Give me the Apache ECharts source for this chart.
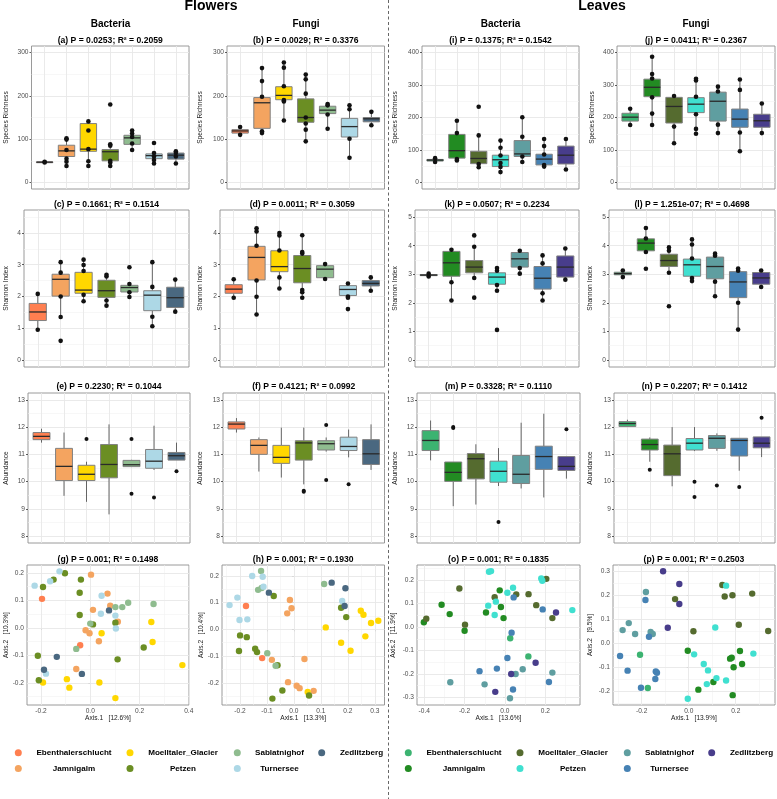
<!DOCTYPE html>
<html><head><meta charset="utf-8">
<script src="https://cdn.jsdelivr.net/npm/echarts@6/dist/echarts.min.js"></script>
<style>html,body{margin:0;padding:0;background:#fff}#c{width:777px;height:799px}</style>
</head><body><div id="c"></div><script>
// ---------------- DATA ----------------
const sites = ['Ebenthalerschlucht','Jamnigalm','Moelltaler_Glacier','Petzen','Sablatnighof','Turnersee','Zedlitzberg'];
const flowerColors = ['#FF7F50','#F4A460','#FFD700','#6B8E23','#8FBC8F','#ADD8E6','#4A6880'];
const leafColors = ['#3CB371','#228B22','#556B2F','#40E0D0','#5F9EA0','#4682B4','#483D8B'];

// box stats: [min, Q1, median, Q3, max] per site
const statsA = [[45,46,47,47.5,48],[38,60,73,86,102],[38,72,77,136,141],[38,50,71,76,88],[75,88,103,109,120],[44,55,62,66,70],[44,54,63,68,72]];
const ptsA = [[46,48],[102,99,75,55,48,38],[141,120,77,49,38],[180,88,85,50,46,38],[120,113,105,90,75],[91,68,60,52,44],[72,68,60,44]];
const statsB = [[110,114,119,122,128],[114,125,184,196,264],[143,191,201,221,277],[95,139,150,193,249],[124,159,167,176,181],[57,105,129,148,179],[132,140,147,150,163]];
const ptsB = [[128,110],[264,234,198,118,114],[277,265,222,190,187,143],[249,238,205,150,136,122,95],[181,178,157,124],[178,169,101,57],[163,132]];
const statsI = [[63,66,69,71,75],[67,75,98,148,191],[47,58,74,96,145],[32,49,70,84,131],[63,80,88,129,201],[50,54,72,87,134],[39,57,84,112,134]];
const ptsI = [[75,63],[190,152,72,68],[233,145,57,47],[129,107,83,60,48,32],[201,141,80,63],[134,112,86,54,49],[134,40]];
const statsJ = [[177,189,201,213,228],[177,264,293,318,387],[121,183,234,262,266],[150,215,241,261,319],[152,189,250,278,295],[96,170,195,226,317],[152,170,190,210,244]];
const ptsJ = [[227,177],[387,334,320,262,212,177],[266,172,121],[319,314,264,210,165,150],[295,280,178,152],[317,285,154,96],[243,152]];

const statsC = [[0.95,1.24,1.51,1.78,2.08],[1.35,2.01,2.54,2.70,3.09],[1.85,2.10,2.20,2.76,3.16],[1.70,1.97,2.18,2.51,2.69],[1.96,2.14,2.28,2.35,2.40],[1.06,1.55,2.04,2.18,3.09],[1.51,1.65,1.96,2.29,2.54]];
const ptsC = [[2.08,0.95],[3.08,2.75,2.0,1.35,0.6],[3.16,2.99,2.8,2.05,1.85],[2.68,2.63,1.87,1.71],[2.92,2.39,2.13,1.98],[3.08,2.3,1.36,1.06],[2.53,1.52]];
const statsD = [[1.96,2.10,2.23,2.37,2.54],[1.43,2.52,3.23,3.58,4.18],[2.25,2.78,2.94,3.44,4.02],[1.96,2.43,2.88,3.29,3.95],[2.54,2.59,2.86,2.97,3.03],[1.96,2.03,2.22,2.34,2.41],[2.19,2.33,2.41,2.50,2.60]];
const ptsD = [[2.54,1.96],[4.15,4.05,3.6,2.5,1.99,1.43],[4.0,3.92,3.45,2.6,2.25],[3.93,3.4,3.35,2.2,2.13,1.96],[3.02,2.55],[2.41,2.0,1.96,1.6],[2.6,2.18]];
const statsK = [[2.92,2.95,2.97,2.99,3.02],[2.08,2.93,3.40,3.80,3.86],[2.86,3.05,3.25,3.48,3.95],[2.41,2.65,2.90,3.05,3.25],[3.01,3.25,3.54,3.76,3.82],[2.08,2.48,2.86,3.27,3.67],[2.80,2.90,3.25,3.64,3.90]];
const ptsK = [[3.02,2.92],[3.86,2.72,2.08],[4.36,3.96,2.87,2.18],[3.22,3.12,2.62,2.42,1.05],[3.82,3.22,3.02],[3.66,3.38,2.33,2.08],[3.9,2.81]];
const statsL = [[2.90,2.98,3.02,3.07,3.13],[3.79,3.82,4.09,4.24,4.65],[3.06,3.27,3.48,3.70,3.95],[2.73,2.93,3.33,3.53,4.24],[2.24,2.84,3.27,3.60,3.74],[1.06,2.18,2.73,3.09,3.24],[2.55,2.65,2.87,3.06,3.15]];
const ptsL = [[3.13,2.9],[4.62,4.25,3.78,3.19],[3.94,3.82,3.05,1.88],[4.22,4.04,3.55,2.87,2.76],[3.72,3.65,2.74,2.23],[3.2,3.12,2.0,1.06],[3.13,2.55]];

const statsE = [[11.43,11.54,11.66,11.80,11.94],[9.48,10.04,10.56,11.22,11.80],[9.26,10.04,10.27,10.60,10.73],[8.80,10.14,10.63,11.36,12.10],[10.55,10.55,10.62,10.78,10.80],[10.43,10.49,10.75,11.18,12.05],[10.79,10.79,10.95,11.07,11.43]];
const outE = [[],[],[11.56],[],[11.56,9.56],[9.42],[10.38]];
const statsF = [[11.80,11.93,12.11,12.19,12.33],[10.37,11.00,11.33,11.54,11.62],[10.15,10.67,10.89,11.33,11.98],[9.90,10.79,11.42,11.50,11.98],[11.10,11.16,11.39,11.50,11.62],[10.89,11.14,11.29,11.63,11.91],[10.43,10.63,11.02,11.54,12.10]];
const outF = [[],[],[],[9.67,9.63],[12.08,10.06],[9.9],[]];
const statsM = [[10.78,11.14,11.51,11.87,12.24],[9.10,10.01,10.34,10.72,10.72],[9.16,10.10,10.84,11.03,11.37],[9.84,9.98,10.38,10.75,11.23],[9.75,9.93,10.27,10.96,12.16],[9.42,10.45,10.92,11.30,12.49],[10.11,10.41,10.56,10.92,10.92]];
const outM = [[],[12.0,11.97],[],[8.52],[],[],[11.92]];
const statsN = [[12.00,12.02,12.13,12.20,12.27],[10.73,11.16,11.36,11.56,11.62],[9.83,10.22,11.02,11.34,12.00],[11.12,11.16,11.41,11.58,12.00],[11.13,11.22,11.59,11.69,11.77],[10.40,10.94,11.51,11.59,11.59],[10.90,11.24,11.41,11.64,11.64]];
const outN = [[],[10.44],[],[10.0,9.44],[9.86],[9.8],[12.34]];

// ordination points: [Axis.1, Axis.2, site index]
const ordG = [[-0.226,0.154,5],[-0.192,0.149,3],[-0.163,0.170,5],[-0.149,0.176,3],[-0.125,0.206,5],[-0.103,0.199,3],[-0.038,0.176,3],[0.003,0.194,1],[-0.196,0.106,0],[-0.043,0.128,3],[0.046,0.117,5],[0.070,0.125,1],[0.081,0.081,1],[0.102,0.076,4],[0.130,0.076,4],[0.154,0.092,4],[0.257,0.087,4],[0.011,0.066,1],[0.076,0.064,6],[-0.043,0.047,3],[0.043,0.052,5],[0.102,0.045,5],[0.0,0.016,4],[0.011,0.013,3],[0.102,0.019,3],[0.112,0.023,1],[0.248,0.022,2],[0.104,-0.002,5],[-0.019,-0.008,1],[-0.003,-0.019,1],[0.046,-0.019,2],[-0.041,-0.063,0],[-0.057,-0.076,4],[0.035,-0.048,1],[0.253,-0.051,2],[0.217,-0.071,3],[-0.213,-0.101,3],[-0.136,-0.105,6],[0.111,-0.114,3],[0.374,-0.135,2],[-0.188,-0.152,6],[-0.180,-0.166,5],[-0.034,-0.167,6],[-0.057,-0.149,1],[-0.209,-0.190,3],[-0.192,-0.198,2],[-0.095,-0.186,2],[-0.085,-0.217,2],[0.037,-0.198,2],[0.102,-0.255,2]];
const ordH = [[-0.122,0.219,4],[-0.155,0.2,5],[-0.116,0.197,5],[-0.133,0.148,4],[-0.12,0.155,4],[-0.113,0.16,5],[-0.239,0.091,5],[-0.210,0.119,5],[-0.202,0.035,5],[-0.173,0.0375,5],[-0.178,0.0875,0],[-0.093,0.1375,6],[-0.075,0.125,3],[-0.015,0.11,1],[-0.009,0.079,1],[-0.025,0.06,1],[0.112,0.17,4],[0.14,0.175,6],[0.191,0.154,6],[0.179,0.106,5],[0.188,0.0875,6],[0.175,0.081,3],[0.194,0.046,3],[0.248,0.07,2],[0.258,0.055,2],[0.286,0.024,2],[0.313,0.0325,2],[0.265,-0.026,2],[0.118,0.0075,2],[0.175,-0.05,2],[0.21,-0.08,2],[-0.2,-0.0225,3],[-0.175,-0.029,3],[-0.204,-0.081,3],[-0.144,-0.0725,3],[-0.137,-0.085,3],[-0.099,-0.089,4],[-0.118,-0.1075,0],[-0.082,-0.114,1],[0.039,-0.111,1],[-0.068,-0.136,4],[-0.061,-0.134,3],[-0.022,-0.1975,1],[0.01,-0.211,1],[0.021,-0.22,1],[0.051,-0.234,2],[0.073,-0.23,1],[0.056,-0.2475,3],[-0.043,-0.229,3],[-0.08,-0.259,3]];
const ordO = [[-0.079,0.235,3],[-0.069,0.238,3],[0.18,0.207,3],[0.185,0.197,3],[0.205,0.205,2],[-0.226,0.164,2],[0.04,0.167,3],[-0.026,0.156,1],[0.012,0.146,3],[0.056,0.139,2],[0.117,0.14,2],[-0.314,0.095,1],[-0.051,0.127,2],[-0.045,0.108,3],[-0.083,0.091,3],[0.155,0.093,2],[0.043,0.126,5],[0.187,0.075,5],[0.253,0.062,6],[0.334,0.072,3],[-0.274,0.055,1],[-0.094,0.062,1],[-0.02,0.085,1],[-0.051,0.051,3],[-0.007,0.038,1],[0.235,0.038,2],[-0.39,0.035,2],[-0.402,0.02,1],[-0.198,0.01,2],[-0.2,-0.016,1],[0.033,-0.024,5],[0.026,-0.048,0],[0.116,-0.125,0],[0.012,-0.132,5],[0.152,-0.152,6],[-0.126,-0.188,5],[-0.04,-0.177,5],[0.088,-0.18,4],[0.053,-0.2,4],[0.031,-0.2,6],[0.235,-0.194,4],[-0.271,-0.235,4],[-0.101,-0.244,4],[0.04,-0.266,5],[0.218,-0.234,5],[-0.048,-0.276,6],[0.025,-0.303,4]];
const ordP = [[-0.109,0.299,6],[-0.04,0.246,6],[-0.04,0.1625,6],[-0.089,0.064,6],[-0.058,0.183,2],[0.143,0.242,2],[0.159,0.239,3],[0.153,0.194,2],[0.186,0.199,2],[0.27,0.206,2],[0.213,0.076,2],[0.02,0.049,2],[0.338,0.05,2],[0.113,0.065,3],[-0.182,0.2125,4],[-0.184,0.179,5],[-0.255,0.083,4],[-0.281,0.054,4],[-0.228,0.0375,4],[-0.162,0.046,4],[-0.153,0.0375,4],[-0.169,0.026,5],[-0.292,-0.054,5],[-0.26,-0.115,5],[-0.207,-0.049,0],[-0.14,-0.118,5],[-0.135,-0.124,5],[-0.142,-0.15,5],[-0.203,-0.186,5],[-0.174,-0.1875,0],[-0.004,-0.032,1],[0.023,-0.047,3],[0.064,-0.0875,3],[0.082,-0.114,3],[0.118,-0.146,3],[0.077,-0.171,3],[0.159,-0.156,3],[0.275,-0.044,3],[0.218,-0.033,1],[0.176,-0.065,1],[0.183,-0.061,1],[0.191,-0.101,1],[0.227,-0.0875,1],[0.105,-0.1625,1],[0.041,-0.194,1],[0.187,-0.217,1],[-0.004,-0.232,3]];

// tick labels
const richTicks3 = [0,100,200,300];
const richTicks4 = [0,100,200,300,400];
const shanTicks4 = [0,1,2,3,4];
const shanTicks5 = [0,1,2,3,4,5];
const abundTicks = [8,9,10,11,12,13];
const gXTicks = [-0.2,0,0.2,0.4], gYTicks = [-0.2,-0.1,0,0.1,0.2];
const hXTicks = [-0.2,-0.1,0,0.1,0.2,0.3], hYTicks = [-0.2,-0.1,0,0.1,0.2];
const oXTicks = [-0.4,-0.2,0,0.2], oYTicks = [-0.3,-0.2,-0.1,0,0.1,0.2];
const pXTicks = [-0.2,0,0.2], pYTicks = [-0.2,-0.1,0,0.1,0.2,0.3];
const categoryPos = [1,2,3,4,5,6,7];

// ---------------- BUILD ----------------
const FONT = 'Liberation Sans, Arial, Helvetica, sans-serif';
const grids = [], xAxes = [], yAxes = [], series = [], titles = [], legends = [];
const MAJ = {color:'#e8e8e8', width:0.9, type:'solid'};
const MIN = {color:'#f2f2f2', width:0.6, type:'solid'};
const TICK_FS = 6.6, NAME_FS = 6.6;

function minors(majors, lo, hi) {
  const s = majors[1] - majors[0];
  const c = [majors[0] - s/2].concat(majors.map(m => m + s/2));
  return c.filter(v => v > lo && v < hi);
}
function addGrid(b) {
  grids.push({left:b[0], top:b[1], width:b[2]-b[0], height:b[3]-b[1], show:true,
    borderColor:'#8f8f8f', borderWidth:0.9, backgroundColor:'#fff', containLabel:false, outerBoundsMode:'none'});
  return grids.length - 1;
}
function addGridLines(gi, xMaj, xMin, yMaj, yMin) {
  const d = [];
  xMin.forEach(v => d.push({xAxis:v, lineStyle:MIN}));
  yMin.forEach(v => d.push({yAxis:v, lineStyle:MIN}));
  xMaj.forEach(v => d.push({xAxis:v, lineStyle:MAJ}));
  yMaj.forEach(v => d.push({yAxis:v, lineStyle:MAJ}));
  series.push({type:'line', xAxisIndex:gi, yAxisIndex:gi, data:[], silent:true,
    markLine:{silent:true, symbol:['none','none'], label:{show:false}, z:1, emphasis:{disabled:true}, data:d}});
}
function addTitle(text, cx, cy, size) {
  titles.push({text, left:cx, top:cy - size*0.62, textAlign:'center', padding:0,
    textStyle:{fontSize:size, fontWeight:'bold', color:'#000', fontFamily:FONT}});
}
function yAxisCfg(gi, lo, hi, ticks, fmt, name, gap) {
  return {gridIndex:gi, type:'value', min:lo, max:hi, splitLine:{show:false}, axisLine:{show:false},
    axisTick:{show:true, length:2, customValues:ticks, lineStyle:{color:'#333', width:0.8}},
    axisLabel:{customValues:ticks, formatter:fmt, fontSize:TICK_FS, color:'#4d4d4d', margin:3, fontFamily:FONT},
    name, nameLocation:'middle', nameGap:gap, nameRotate:90, nameMoveOverlap:false,
    nameTextStyle:{fontSize:NAME_FS, color:'#1a1a1a', fontFamily:FONT}};
}
function boxRenderer(colors) {
  return function (params, api) {
    const x = api.value(0);
    const lo = api.coord([x, api.value(1)]);
    const q1 = api.coord([x, api.value(2)]);
    const md = api.coord([x, api.value(3)]);
    const q3 = api.coord([x, api.value(4)]);
    const hi = api.coord([x, api.value(5)]);
    const w = api.size([0.75, 0])[0];
    const cx = q1[0];
    return {type:'group', children:[
      {type:'line', shape:{x1:cx, y1:hi[1], x2:cx, y2:q3[1]}, style:{stroke:'#555', lineWidth:0.9}},
      {type:'line', shape:{x1:cx, y1:q1[1], x2:cx, y2:lo[1]}, style:{stroke:'#555', lineWidth:0.9}},
      {type:'rect', shape:{x:cx-w/2, y:q3[1], width:w, height:Math.max(q1[1]-q3[1], 0.8)},
        style:{fill:colors[params.dataIndex], stroke:'#808080', lineWidth:1}},
      {type:'line', shape:{x1:cx-w/2, y1:md[1], x2:cx+w/2, y2:md[1]}, style:{stroke:'#2a2a2a', lineWidth:1.3}}
    ]};
  };
}
const fmtInt = v => String(Math.round(v));
const fmt1 = v => (Math.abs(v) < 1e-9 ? 0 : v).toFixed(1);

function boxPanel(p) {
  const gi = addGrid(p.box);
  xAxes.push({gridIndex:gi, type:'value', min:0.4, max:7.6, show:false});
  yAxes.push(yAxisCfg(gi, p.y[0], p.y[1], p.ticks, fmtInt, p.yName, p.box[0] - p.nameX - 3.8));
  addGridLines(gi, categoryPos, [], p.ticks, minors(p.ticks, p.y[0], p.y[1]));
  series.push({type:'custom', xAxisIndex:gi, yAxisIndex:gi, silent:true, z:2,
    data:p.stats.map((s, k) => [categoryPos[k]].concat(s)),
    encode:{x:0, y:[1,2,3,4,5]}, renderItem:boxRenderer(p.colors)});
  const dots = [];
  p.dots.forEach((arr, k) => arr.forEach(v => dots.push([categoryPos[k], v])));
  series.push({type:'scatter', xAxisIndex:gi, yAxisIndex:gi, silent:true, z:3, data:dots,
    symbolSize:p.dotSize, itemStyle:{color:'#111', opacity:1}});
  addTitle(p.title, (p.box[0]+p.box[2])/2, p.titleY, 8.6);
}
function ordPanel(p) {
  const gi = addGrid(p.box);
  xAxes.push({gridIndex:gi, type:'value', min:p.x[0], max:p.x[1], splitLine:{show:false}, axisLine:{show:false},
    axisTick:{show:true, length:2, customValues:p.xt, lineStyle:{color:'#333', width:0.8}},
    axisLabel:{customValues:p.xt, formatter:fmt1, fontSize:TICK_FS, color:'#4d4d4d', margin:3, fontFamily:FONT},
    name:p.xName, nameLocation:'middle', nameGap:10, nameMoveOverlap:false,
    nameTextStyle:{fontSize:NAME_FS, color:'#1a1a1a', fontFamily:FONT}});
  yAxes.push(yAxisCfg(gi, p.y[0], p.y[1], p.yt, fmt1, p.yName, p.box[0] - p.nameX - 3.8));
  addGridLines(gi, p.xt, minors(p.xt, p.x[0], p.x[1]), p.yt, minors(p.yt, p.y[0], p.y[1]));
  sites.forEach((s, k) => {
    series.push({type:'scatter', name:p.prefix + s, xAxisIndex:gi, yAxisIndex:gi, silent:true, z:3,
      data:p.pts.filter(d => d[2] === k).map(d => [d[0], d[1]]),
      symbolSize:6.4, itemStyle:{color:p.colors[k], opacity:1}});
  });
  addTitle(p.title, (p.box[0]+p.box[2])/2, p.titleY, 8.6);
}

// Row 1
boxPanel({stats:statsA, dots:ptsA, dotSize:4.6, colors:flowerColors, box:[31.5,46,189,189], y:[-15,315], ticks:richTicks3, yName:'Species Richness', nameX:5.5, title:'(a) P = 0.0253; R² = 0.2059', titleY:41});
boxPanel({stats:statsB, dots:ptsB, dotSize:4.6, colors:flowerColors, box:[227,46,384.5,189], y:[-15,315], ticks:richTicks3, yName:'Species Richness', nameX:200, title:'(b) P = 0.0029; R² = 0.3376', titleY:41});
boxPanel({stats:statsI, dots:ptsI, dotSize:4.6, colors:leafColors, box:[422,46,579,189], y:[-20,420], ticks:richTicks4, yName:'Species Richness', nameX:395, title:'(i) P = 0.1375; R² = 0.1542', titleY:41});
boxPanel({stats:statsJ, dots:ptsJ, dotSize:4.6, colors:leafColors, box:[617,46,775,189], y:[-20,420], ticks:richTicks4, yName:'Species Richness', nameX:592, title:'(j) P = 0.0411; R² = 0.2367', titleY:41});
// Row 2
boxPanel({stats:statsC, dots:ptsC, dotSize:4.6, colors:flowerColors, box:[24,210,189,367], y:[-0.225,4.725], ticks:shanTicks4, yName:'Shannon Index', nameX:5.5, title:'(c) P = 0.1661; R² = 0.1514', titleY:205});
boxPanel({stats:statsD, dots:ptsD, dotSize:4.6, colors:flowerColors, box:[220,210,384.5,367], y:[-0.225,4.725], ticks:shanTicks4, yName:'Shannon Index', nameX:200, title:'(d) P = 0.0011; R² = 0.3059', titleY:205});
boxPanel({stats:statsK, dots:ptsK, dotSize:4.6, colors:leafColors, box:[415,210,579,367], y:[-0.25,5.25], ticks:shanTicks5, yName:'Shannon Index', nameX:395, title:'(k) P = 0.0507; R² = 0.2234', titleY:205});
boxPanel({stats:statsL, dots:ptsL, dotSize:4.6, colors:leafColors, box:[609,210,775,367], y:[-0.25,5.25], ticks:shanTicks5, yName:'Shannon Index', nameX:590, title:'(l) P = 1.251e-07; R² = 0.4698', titleY:205});
// Row 3
boxPanel({stats:statsE, dots:outE, dotSize:4, colors:flowerColors, box:[28,393,190,543], y:[7.75,13.25], ticks:abundTicks, yName:'Abundance', nameX:5.5, title:'(e) P = 0.2230; R² = 0.1044', titleY:387});
boxPanel({stats:statsF, dots:outF, dotSize:4, colors:flowerColors, box:[223,393,384.5,543], y:[7.75,13.25], ticks:abundTicks, yName:'Abundance', nameX:199.5, title:'(f) P = 0.4121; R² = 0.0992', titleY:387});
boxPanel({stats:statsM, dots:outM, dotSize:4, colors:leafColors, box:[417,393,580,543], y:[7.75,13.25], ticks:abundTicks, yName:'Abundance', nameX:395, title:'(m) P = 0.3328; R² = 0.1110', titleY:387});
boxPanel({stats:statsN, dots:outN, dotSize:4, colors:leafColors, box:[614,393,775,543], y:[7.75,13.25], ticks:abundTicks, yName:'Abundance', nameX:590, title:'(n) P = 0.2207; R² = 0.1412', titleY:387});
// Row 4
ordPanel({pts:ordG, prefix:'F|', colors:flowerColors, box:[27,565,189,705], x:[-0.257,0.401], y:[-0.28,0.229], xt:gXTicks, yt:gYTicks, xName:'Axis.1   [12.6%]', yName:'Axis.2   [10.3%]', nameX:5.5, title:'(g) P = 0.001; R² = 0.1498', titleY:560});
ordPanel({pts:ordH, prefix:'F|', colors:flowerColors, box:[222,565,384.5,705], x:[-0.267,0.336], y:[-0.283,0.241], xt:hXTicks, yt:hYTicks, xName:'Axis.1   [13.3%]', yName:'Axis.2   [10.4%]', nameX:201, title:'(h) P = 0.001; R² = 0.1930', titleY:560});
ordPanel({pts:ordO, prefix:'L|', colors:leafColors, box:[417,565,580,705], x:[-0.436,0.372], y:[-0.332,0.264], xt:oXTicks, yt:oYTicks, xName:'Axis.1   [13.6%]', yName:'Axis.2   [11.9%]', nameX:393, title:'(o) P = 0.001; R² = 0.1835', titleY:560});
ordPanel({pts:ordP, prefix:'L|', colors:leafColors, box:[613,565,775,705], x:[-0.322,0.367], y:[-0.258,0.325], xt:pXTicks, yt:pYTicks, xName:'Axis.1   [13.9%]', yName:'Axis.2   [9.5%]', nameX:590, title:'(p) P = 0.001; R² = 0.2503', titleY:560});

// headers
addTitle('Flowers', 211, 7.5, 14);
addTitle('Leaves', 602, 7.5, 14);
addTitle('Bacteria', 110.5, 25.7, 10);
addTitle('Fungi', 306, 25.7, 10);
addTitle('Bacteria', 500.5, 25.7, 10);
addTitle('Fungi', 696, 25.7, 10);

// legends (one component per key, laid out in 4 columns x 2 rows)
const legCols = [[0,1],[2,3],[4,5],[6]];
const legIconX = [408.3, 520, 627.3, 711.7];
const legTextCx = [464, 573, 669.5, 751.5];
const legRowY = [754.3, 770];
const ICON = 7;
[['L|', 0], ['F|', -390]].forEach(([prefix, shift]) => {
  legCols.forEach((col, ci) => col.forEach((si, ri) => {
    const ix = legIconX[ci] + shift;
    const w = 2 * (legTextCx[ci] + shift - ix - ICON/2 - 5);
    legends.push({data:[prefix + sites[si]], left:ix - ICON/2, top:legRowY[ri] - 5.5, padding:0,
      itemWidth:ICON, itemHeight:ICON, icon:'circle', selectedMode:false, orient:'horizontal',
      formatter:n => '{t|' + n.slice(2) + '}',
      textStyle:{rich:{t:{width:w, align:'center', fontSize:8.1, fontWeight:'bold', color:'#000', fontFamily:FONT}}}});
  }));
});

const chart = echarts.init(document.getElementById('c'), null, {renderer:'canvas'});
chart.setOption({
  animation:false, backgroundColor:'#fff', textStyle:{fontFamily:FONT},
  title:titles, legend:legends, grid:grids, xAxis:xAxes, yAxis:yAxes, series,
  graphic:[{type:'line', silent:true, shape:{x1:388.5, y1:0, x2:388.5, y2:799},
    style:{stroke:'#666', lineWidth:1, lineDash:[3,2.5]}}]
});
</script></body></html>
